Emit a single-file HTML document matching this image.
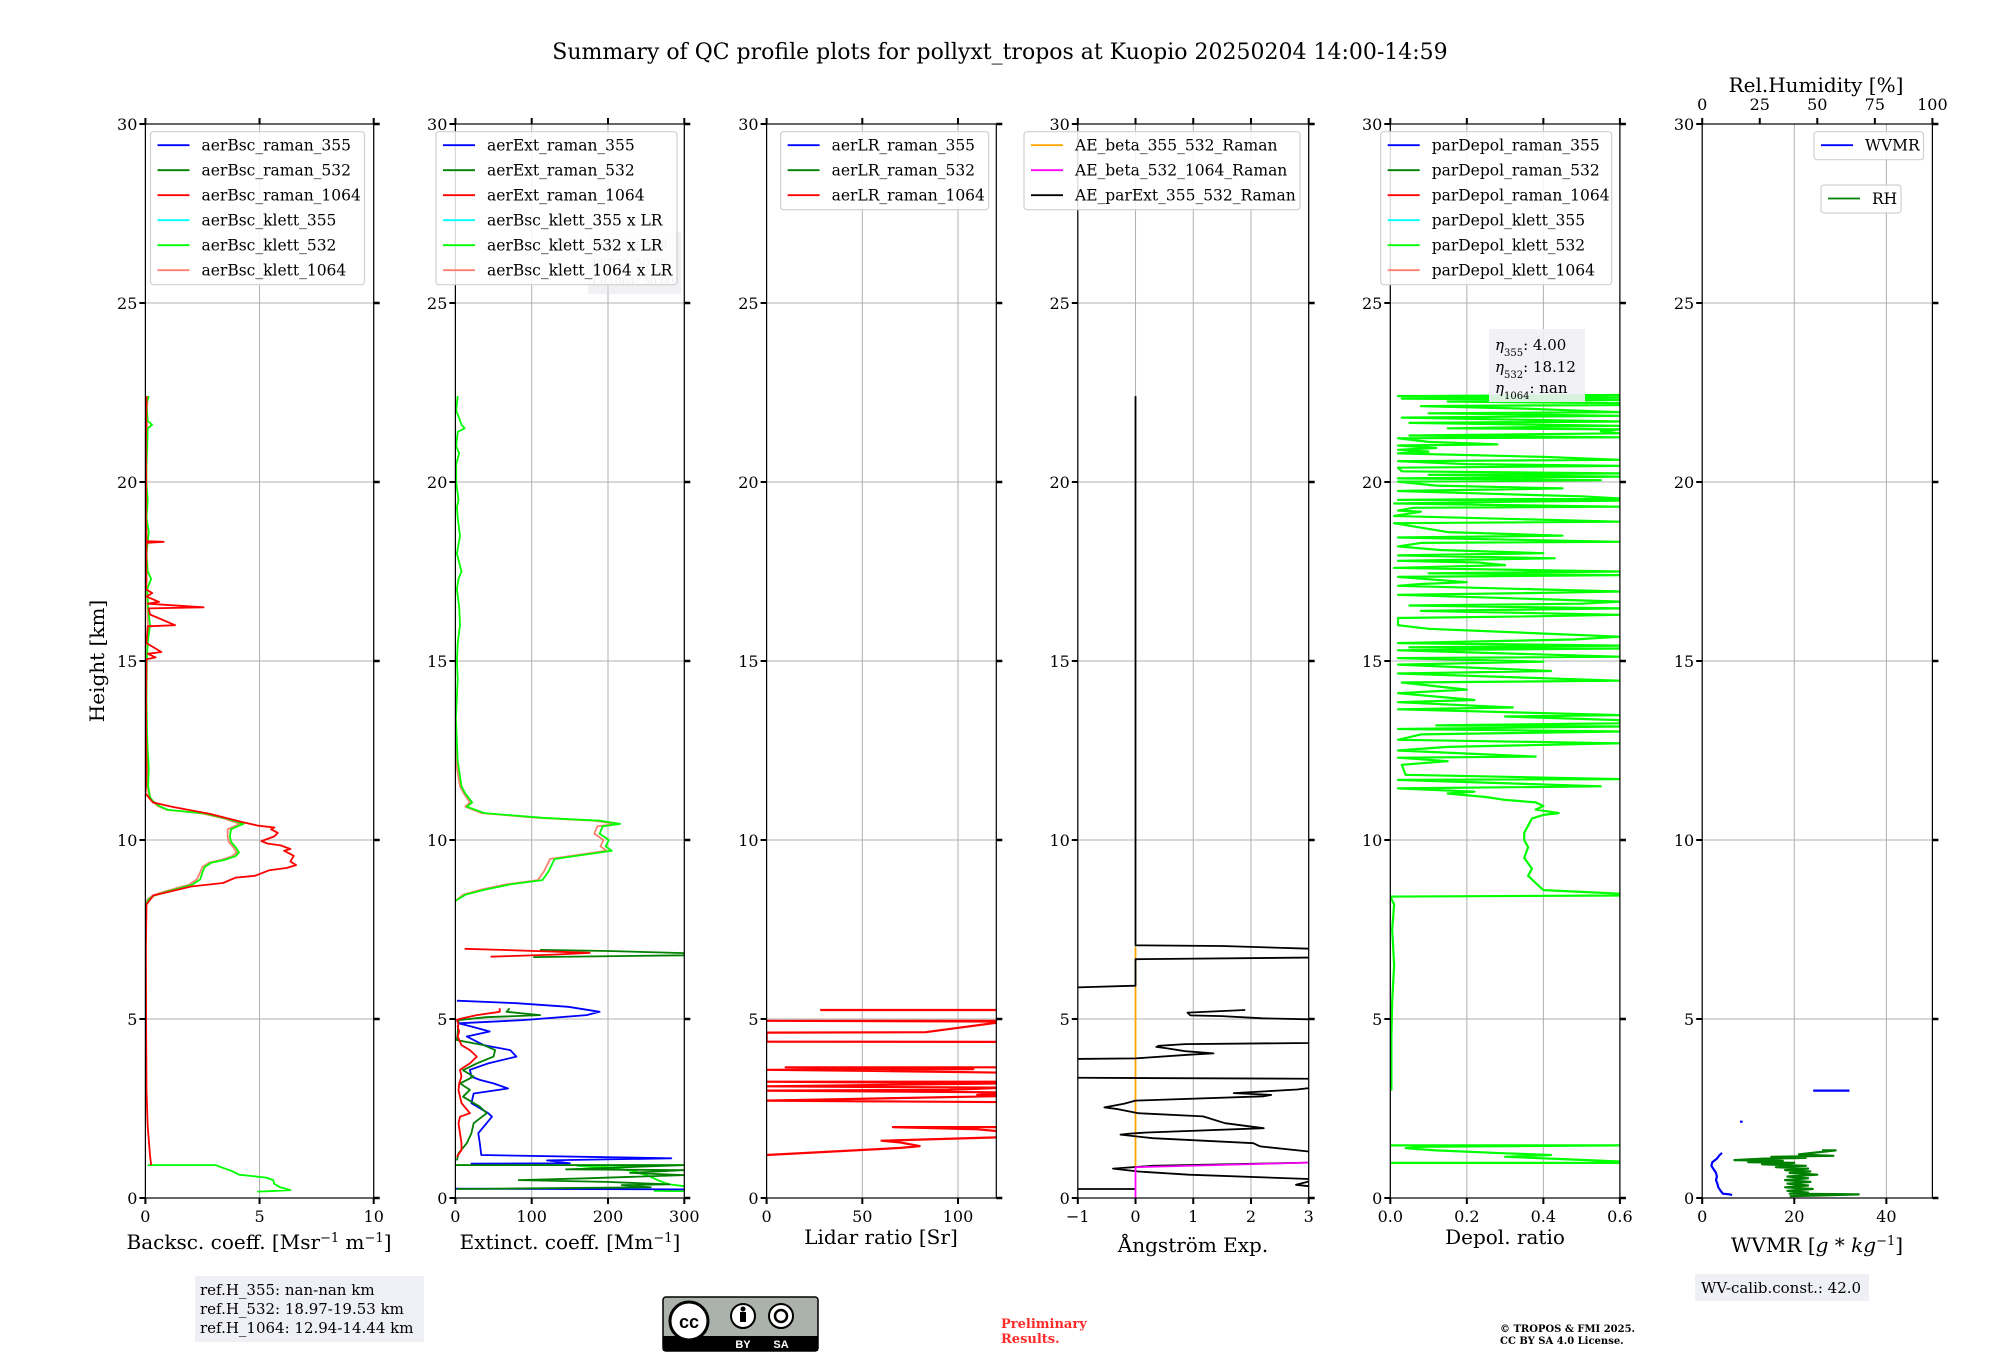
<!DOCTYPE html>
<html><head><meta charset="utf-8"><title>QC profile summary</title>
<style>
html,body{margin:0;padding:0;background:#fff;}
svg{display:block;font-family:"DejaVu Serif","Liberation Serif",serif;}
</style></head>
<body>
<svg id="fig" xmlns="http://www.w3.org/2000/svg" width="2000" height="1360" viewBox="0 0 2000 1360">
<rect x="0" y="0" width="2000" height="1360" fill="#fff"/>
<text x="1000" y="59" font-size="22" text-anchor="middle">Summary of QC profile plots for pollyxt_tropos at Kuopio 20250204 14:00-14:59</text>
<text transform="translate(97,661) rotate(-90)" font-size="20" text-anchor="middle" dominant-baseline="central">Height [km]</text>
<g id="panels"></g>
<g>
<rect x="195" y="1276" width="229" height="66" fill="#eff0f5"/>
<text x="200" y="1295" font-size="15">ref.H_355: nan-nan km</text>
<text x="200" y="1314" font-size="15">ref.H_532: 18.97-19.53 km</text>
<text x="200" y="1333" font-size="15">ref.H_1064: 12.94-14.44 km</text>
</g>
<g>
<rect x="663" y="1297" width="155" height="54" rx="3" fill="#aab2ab" stroke="#000" stroke-width="1.5"/>
<rect x="663" y="1336" width="155" height="15" fill="#000"/>
<circle cx="689" cy="1321" r="19" fill="#fff" stroke="#000" stroke-width="3"/>
<text x="689" y="1328" font-size="18" font-weight="bold" text-anchor="middle" font-family="Liberation Sans, sans-serif">cc</text>
<circle cx="743" cy="1316" r="12" fill="#fff" stroke="#000" stroke-width="2"/>
<circle cx="743" cy="1309" r="2.5" fill="#000"/>
<rect x="740" y="1312" width="6" height="10" fill="#000"/>
<circle cx="781" cy="1316" r="12" fill="#fff" stroke="#000" stroke-width="2"/>
<circle cx="781" cy="1316" r="6" fill="none" stroke="#000" stroke-width="2.5"/>
<text x="743" y="1348" font-size="11" font-weight="bold" fill="#fff" text-anchor="middle" font-family="Liberation Sans, sans-serif">BY</text>
<text x="781" y="1348" font-size="11" font-weight="bold" fill="#fff" text-anchor="middle" font-family="Liberation Sans, sans-serif">SA</text>
</g>
<g fill="#ff2a2a" font-size="13" font-weight="bold">
<text x="1001" y="1328">Preliminary</text>
<text x="1001" y="1343">Results.</text>
</g>
<g font-size="10" font-weight="bold">
<text x="1500" y="1332">© TROPOS &amp; FMI 2025.</text>
<text x="1500" y="1344">CC BY SA 4.0 License.</text>
</g>
<g>
<rect x="1695" y="1274" width="174" height="27" fill="#eff0f5"/>
<text x="1701" y="1293" font-size="15">WV-calib.const.: 42.0</text>
</g>
</svg>
<script>
// ---------- data (height km, value) ----------
const yTicks = [0,5,10,15,20,25,30];
const bscTicks = [0,5,10];
const extTicks = [0,100,200,300];
const lrTicks = [0,50,100];
const aeTicks = [-1,0,1,2,3];
const aeTickLabels = ["\u22121","0","1","2","3"];
const depTicks = [0,0.2,0.4,0.6];
const depTickLabels = ["0.0","0.2","0.4","0.6"];
const wvTicks = [0,20,40];
const rhTicks = [0,25,50,75,100];

const bscKlett532 = [[22.4,0.15],[22.2,0.05],[21.7,0.1],[21.6,0.3],[21.5,0.1],[21.0,0.08],[20.5,0.05],[20.0,0.04],[19.5,0.1],[19.0,0.05],[18.6,0.15],[18.0,0.05],[17.5,0.1],[17.3,0.25],[17.0,0.08],[16.5,0.12],[16.0,0.2],[15.5,0.1],[15.0,0.06],[14.0,0.05],[13.0,0.07],[12.5,0.1],[12.0,0.15],[11.5,0.12],[11.2,0.2],[11.09,0.33],[10.95,0.6],[10.84,1.0],[10.74,2.6],[10.59,3.6],[10.45,4.3],[10.4,4.1],[10.3,3.75],[10.1,3.7],[9.95,3.75],[9.8,3.95],[9.65,4.1],[9.55,3.95],[9.45,3.5],[9.37,2.9],[9.25,2.6],[9.1,2.5],[8.9,2.4],[8.75,2.05],[8.65,1.5],[8.55,0.9],[8.45,0.4],[8.35,0.15],[8.2,0.03],[null,null],[0.92,0.1],[0.92,3.07],[0.75,3.8],[0.65,4.1],[0.57,5.3],[0.5,5.6],[0.4,5.64],[0.3,5.9],[0.22,6.35],[0.19,5.4],[0.18,4.9]];
const bscKlett1064 = [[22.4,0.12],[22.0,0.05],[21.5,0.08],[21.0,0.05],[20.0,0.04],[19.0,0.05],[18.0,0.05],[17.0,0.06],[16.0,0.1],[15.0,0.05],[14.0,0.04],[13.0,0.05],[12.0,0.1],[11.5,0.1],[11.2,0.15],[11.09,0.28],[10.95,0.55],[10.84,0.95],[10.74,2.5],[10.59,3.5],[10.45,4.15],[10.4,3.95],[10.3,3.6],[10.1,3.6],[9.95,3.65],[9.8,3.85],[9.65,4.0],[9.55,3.8],[9.45,3.35],[9.37,2.8],[9.25,2.5],[9.1,2.4],[8.9,2.25],[8.75,1.9],[8.65,1.35],[8.55,0.8],[8.45,0.32],[8.35,0.1],[8.2,0.02]];
const bscRaman1064 = [[22.4,0.05],[21.0,0.02],[20.0,0.03],[19.0,0.02],[18.35,0.05],[18.33,0.8],[18.3,0.05],[17.0,0.03],[16.9,0.3],[16.8,0.05],[16.65,0.6],[16.6,0.1],[16.5,2.55],[16.47,0.15],[16.3,0.2],[16.0,1.3],[15.97,0.1],[15.5,0.05],[15.25,0.7],[15.2,0.1],[15.1,0.45],[15.05,0.05],[14.0,0.03],[13.0,0.03],[12.0,0.05],[11.5,0.03],[11.3,0.0],[11.05,0.33],[10.93,1.16],[10.73,2.83],[10.5,4.25],[10.4,4.95],[10.35,5.65],[10.3,5.5],[10.2,5.8],[10.1,5.65],[9.97,5.08],[9.9,5.36],[9.85,5.92],[9.75,6.35],[9.7,6.07],[9.56,6.5],[9.4,6.35],[9.3,6.6],[9.22,6.2],[9.15,5.4],[9.0,4.8],[8.95,3.96],[8.8,3.4],[8.7,2.0],[8.45,0.35],[8.2,0.05],[7.0,0.02],[5.0,0.03],[3.0,0.05],[2.0,0.1],[1.2,0.2],[0.92,0.25]];

const extKlett532 = [[22.4,3],[22.0,1],[21.6,8],[21.5,12],[21.4,3],[21.0,1],[20.8,5],[20.5,1],[20.0,1],[19.5,4],[19.3,2],[19.0,3],[18.5,6],[18.0,2],[17.5,8],[17.3,4],[17.0,2],[16.5,5],[16.0,6],[15.5,3],[15.0,2],[14.5,3],[14.0,2],[13.4,0.6],[12.2,3],[11.5,8],[11.3,13],[11.05,22],[10.93,15],[10.75,38],[10.62,114],[10.54,189],[10.45,216],[10.38,193],[10.18,189],[10.0,201],[9.82,197],[9.7,205],[9.65,189],[9.47,130],[9.12,122],[8.88,114],[8.76,72],[8.61,38],[8.47,13],[8.3,0],[null,null],[0.92,2],[0.92,300],[0.9,160],[0.85,200],[0.75,235],[0.6,255],[0.5,265],[0.42,275],[0.38,281],[0.33,300],[null,null],[0.2,260],[0.19,300]];
const extKlett1064 = [[13.0,1],[12.0,2],[11.5,6],[11.3,11],[11.05,19],[10.93,13],[10.75,34],[10.62,108],[10.54,182],[10.45,210],[10.38,186],[10.18,182],[10.0,194],[9.82,190],[9.7,198],[9.65,182],[9.47,124],[9.12,116],[8.88,108],[8.76,66],[8.61,33],[8.47,10],[8.3,0]];
const extRaman355 = [[5.51,2],[5.44,80],[5.34,148],[5.2,189],[5.11,172],[4.97,89],[4.88,4],[4.79,21],[4.65,45],[4.51,15],[4.27,37],[4.13,72],[3.95,80],[3.76,43],[3.58,19],[3.39,21],[3.3,32],[3.2,50],[3.06,69],[2.92,24],[2.65,21],[2.37,43],[2.27,48],[1.99,37],[1.81,30],[1.53,32],[1.2,34],[1.11,283],[1.05,120],[0.97,150],[0.96,20],[null,null],[0.26,0],[0.24,300]];
const extRaman532 = [[6.93,111],[6.9,200],[6.84,300],[6.78,300],[6.73,102],[null,null],[5.3,71],[5.2,67],[5.11,111],[5.05,40],[4.97,4],[4.6,3],[4.41,2],[4.27,37],[4.13,52],[3.95,50],[3.76,28],[3.57,10],[3.39,24],[3.2,6],[3.02,19],[2.83,10],[2.55,32],[2.37,41],[2.09,24],[1.81,21],[1.53,15],[1.25,4],[1.05,2],[null,null],[0.92,0],[0.92,300],[0.8,145],[0.78,300],[0.7,229],[0.64,300],[0.55,172],[0.5,83],[0.45,198],[0.38,281],[0.36,218],[0.3,256],[0.25,2]];
const extRaman1064 = [[6.96,12],[6.93,60],[6.85,176],[6.8,130],[6.74,46],[null,null],[5.3,58],[5.2,58],[5.11,28],[5.0,5],[4.97,2],[4.85,4],[4.79,3],[4.65,5],[4.51,3],[4.27,8],[4.13,19],[3.95,28],[3.76,19],[3.58,6],[3.39,8],[3.2,5],[3.02,4],[2.83,6],[2.65,8],[2.37,19],[2.27,6],[2.09,4],[1.81,6],[1.53,8],[1.34,8],[1.15,2]];

const lrRaman1064 = [[5.25,28],[5.25,125],[4.95,125],[4.95,0],[4.93,125],[4.63,83],[4.62,0],[4.37,0],[4.36,125],[3.65,125],[3.65,10],[3.6,108],[3.58,0],[3.55,56],[3.5,125],[3.25,125],[3.25,0],[3.2,125],[3.12,0],[3.1,60],[3.08,125],[3.02,95],[3.0,0],[2.95,125],[2.88,110],[2.85,125],[2.72,0],[2.7,50],[2.68,125],[1.98,125],[1.98,66],[1.92,110],[1.85,125],[1.7,125],[1.6,60],[1.55,70],[1.45,80],[1.4,70],[1.2,0]];

const aeParExt = [[22.4,0],[7.06,0],[7.04,1.5],[6.95,3.3],[6.72,3.3],[6.67,0],[5.93,0],[5.87,-1.3],[null,null],[5.25,1.9],[5.18,0.9],[5.1,0.95],[5.08,1.5],[5.02,2.2],[4.98,3.3],[null,null],[4.37,3.3],[4.33,3],[4.3,0.86],[4.25,0.4],[4.22,0.36],[4.18,0.55],[4.1,0.86],[4.04,1.35],[4.0,0.9],[3.9,0],[3.88,-1.3],[null,null],[3.36,-1.3],[3.33,3.3],[null,null],[3.09,3.3],[3.07,3],[3.03,2.8],[2.93,1.7],[2.88,2.35],[2.84,2.22],[2.72,0],[2.63,-0.2],[2.53,-0.54],[2.48,-0.3],[2.37,0.05],[2.28,1.17],[2.09,1.55],[1.95,2.22],[1.83,0.2],[1.8,-0.1],[1.77,-0.26],[1.67,0.3],[1.53,2.04],[1.44,2.16],[1.3,3.0],[1.28,3.3],[null,null],[1.0,3.3],[0.99,3],[0.9,0.3],[0.85,-0.15],[0.82,-0.39],[0.74,0.05],[0.65,0.92],[0.53,3.0],[0.46,3.0],[0.37,2.78],[0.33,3.0],[0.32,3.3],[null,null],[0.25,-1.3],[0.25,0]];
const aeBeta355532 = [[7.0,0],[0.85,0]];
const aeBeta5321064 = [[0,0],[0.86,0],[0.99,3.0]];

const depKlett532 = [[22.43,0.6],[22.4,0.02],[22.36,0.6],[22.33,0.03],[22.29,0.6],[22.25,0.15],[22.2,0.6],[22.15,0.6],[22.12,0.08],[22.05,0.35],[21.95,0.6],[21.92,0.1],[21.85,0.6],[21.8,0.03],[21.69,0.6],[21.65,0.05],[21.57,0.6],[21.5,0.15],[21.47,0.6],[21.42,0.55],[21.36,0.6],[21.3,0.05],[21.25,0.6],[21.22,0.02],[21.12,0.1],[21.05,0.28],[21.02,0.02],[20.95,0.12],[20.9,0.02],[20.85,0.1],[20.8,0.02],[20.7,0.4],[20.62,0.6],[20.58,0.02],[20.5,0.2],[20.45,0.6],[20.4,0.02],[20.3,0.03],[20.24,0.6],[20.2,0.1],[20.15,0.6],[20.1,0.02],[20.05,0.55],[20.01,0.02],[19.9,0.12],[19.82,0.45],[19.75,0.02],[19.66,0.3],[19.6,0.5],[19.54,0.6],[19.5,0.02],[19.48,0.6],[19.45,0.32],[19.4,0.01],[19.31,0.6],[19.28,0.06],[19.2,0.02],[19.17,0.08],[19.05,0.01],[18.89,0.6],[18.85,0.01],[18.6,0.15],[18.5,0.45],[18.45,0.02],[18.33,0.6],[18.3,0.08],[18.2,0.02],[18.1,0.13],[18.01,0.4],[17.95,0.02],[17.87,0.43],[17.8,0.02],[17.75,0.23],[17.68,0.3],[17.6,0.01],[17.5,0.6],[17.45,0.1],[17.4,0.6],[17.35,0.02],[17.2,0.2],[17.15,0.08],[17.1,0.02],[16.94,0.6],[16.9,0.38],[16.85,0.02],[16.66,0.6],[16.6,0.5],[16.55,0.05],[16.47,0.6],[16.4,0.08],[16.29,0.6],[16.25,0.38],[16.2,0.02],[16.0,0.02],[15.9,0.1],[15.68,0.6],[15.6,0.48],[15.5,0.02],[15.43,0.6],[15.38,0.05],[15.35,0.6],[15.3,0.02],[15.12,0.6],[15.08,0.02],[14.98,0.4],[14.9,0.02],[14.72,0.42],[14.65,0.02],[14.45,0.6],[14.4,0.03],[14.2,0.2],[14.1,0.02],[13.91,0.22],[13.85,0.02],[13.7,0.32],[13.65,0.02],[13.49,0.6],[13.45,0.3],[13.35,0.6],[13.26,0.6],[13.2,0.12],[13.17,0.6],[13.1,0.02],[13.03,0.6],[12.95,0.08],[12.8,0.02],[12.7,0.6],[12.6,0.15],[12.5,0.02],[12.33,0.38],[12.3,0.02],[12.2,0.15],[12.1,0.03],[11.82,0.04],[11.7,0.6],[11.68,0.02],[11.5,0.55],[11.44,0.02],[11.35,0.22],[11.3,0.15],[11.2,0.25],[11.12,0.3],[11.05,0.38],[10.95,0.4],[10.85,0.38],[10.75,0.44],[10.7,0.4],[10.6,0.37],[10.4,0.36],[10.2,0.35],[10.0,0.35],[9.8,0.36],[9.5,0.35],[9.2,0.37],[9.0,0.36],[8.8,0.38],[8.6,0.4],[8.55,0.5],[8.5,0.6],[8.45,0.6],[8.42,0.0],[8.2,0.01],[7.5,0.005],[6.5,0.01],[5.5,0.005],[4.5,0.003],[3.0,0.003],[null,null],[1.47,0],[1.47,0.6],[1.43,0.08],[1.39,0.04],[1.33,0.12],[1.25,0.3],[1.2,0.42],[1.15,0.3],[1.1,0.42],[1.02,0.6],[0.98,0.6],[0.98,0]];

const wvmr = [[1.26,4.3],[1.2,3.8],[1.1,3.2],[1.0,2.2],[0.9,2.0],[0.8,2.5],[0.7,3.0],[0.6,3.2],[0.5,3.0],[0.4,3.3],[0.3,3.5],[0.2,4.0],[0.12,4.5],[0.1,6.0],[0.08,6.5],[null,null],[2.13,8.2],[2.13,8.8],[null,null],[3.0,24.1],[3.0,32.0]];
const rh = [[1.33,52],[1.33,58],[1.22,42],[1.2,47],[1.18,57],[1.15,30],[1.12,45],[1.1,27],[1.06,14],[1.04,35],[1.0,20],[0.98,40],[0.94,26],[0.9,45],[0.86,32],[0.82,46],[0.78,36],[0.74,47],[0.7,38],[0.65,50],[0.6,37],[0.55,46],[0.5,36],[0.45,47],[0.4,37],[0.35,46],[0.3,36],[0.25,48],[0.2,37],[0.15,46],[0.12,38],[0.1,68],[0.07,50],[0.05,38]];

// ---------- layout ----------
const NS = "http://www.w3.org/2000/svg";
const Y0 = 1198, YT = 124;
function yS(h){ return Y0 - h*(Y0-YT)/30; }
const panels = {
  bsc:{x0:145.4,x1:373.7,min:0,max:10},
  ext:{x0:455.4,x1:684.3,min:0,max:300},
  lr:{x0:766.6,x1:996.3,min:0,max:120},
  ae:{x0:1077.8,x1:1308.7,min:-1,max:3},
  dep:{x0:1390.3,x1:1619.9,min:0,max:0.6},
  wv:{x0:1702.2,x1:1932.4,min:0,max:50}
};
const rhAxis = {x0:1702.2,x1:1932.4,min:0,max:100};
function xS(p,v){ return p.x0 + (v-p.min)*(p.x1-p.x0)/(p.max-p.min); }
const root = document.getElementById('panels');
function mk(parent, tag, attrs, name, inter){
  const el = document.createElementNS(NS, tag);
  for (const k in attrs) el.setAttribute(k, attrs[k]);
  
  
  parent.appendChild(el);
  return el;
}
function txt(parent, x, y, s, size, anchor, name){
  const t = mk(parent,'text',{x:x,y:y,'font-size':size,'text-anchor':anchor||'start'},name,false);
  t.textContent = s;
  return t;
}

function drawPanel(key, ticks, tickLabels, xlabelParts, xlabelX, xlabelY){
  const p = panels[key];
  const g = mk(root,'g',{},'panel-'+key,false);
  const cp = mk(g,'clipPath',{id:'clip-'+key},'clip-'+key,false);
  mk(cp,'rect',{x:p.x0,y:YT,width:p.x1-p.x0,height:Y0-YT},'clip-rect',false);
  yTicks.forEach(h=>{ mk(g,'line',{x1:p.x0,x2:p.x1,y1:yS(h),y2:yS(h),stroke:'#b0b0b0','stroke-width':1},'y-grid-line',false); });
  ticks.forEach(v=>{ const x=xS(p,v); mk(g,'line',{x1:x,x2:x,y1:YT,y2:Y0,stroke:'#b0b0b0','stroke-width':1},'x-grid-line',false); });
  const dg = mk(g,'g',{'clip-path':'url(#clip-'+key+')'},'series-group-'+key,false);
  mk(g,'rect',{x:p.x0,y:YT,width:p.x1-p.x0,height:Y0-YT,fill:'none',stroke:'#000','stroke-width':1.2},'axes-frame',false);
  yTicks.forEach(h=>{
    const y=yS(h);
    mk(g,'line',{x1:p.x0-6,x2:p.x0,y1:y,y2:y,stroke:'#000','stroke-width':2},'y-tick',false);
    mk(g,'line',{x1:p.x1,x2:p.x1+6,y1:y,y2:y,stroke:'#000','stroke-width':2.5},'y-tick-right',false);
    txt(g,p.x0-8,y+6,String(h),16,'end','y-tick-label');
  });
  ticks.forEach((v,i)=>{
    const x=xS(p,v);
    mk(g,'line',{x1:x,x2:x,y1:Y0,y2:Y0+6,stroke:'#000','stroke-width':2},'x-tick',false);
    if (key!=='wv') mk(g,'line',{x1:x,x2:x,y1:YT-6,y2:YT,stroke:'#000','stroke-width':2},'x-tick-top',false);
    txt(g,x,1222,tickLabels[i],16,'middle','x-tick-label');
  });
  const xl = mk(g,'text',{x:xlabelX,y:xlabelY,'font-size':20,'text-anchor':'middle'},'x-axis-title-'+key,false);
  xlabelParts.forEach(pt=>{
    const ts = document.createElementNS(NS,'tspan');
    ts.textContent = pt[0];
    if (pt[1]==='sup'){ ts.setAttribute('baseline-shift','super'); ts.setAttribute('font-size','13'); }
    if (pt[1]==='it'){ ts.setAttribute('font-style','italic'); }
    xl.appendChild(ts);
  });
  return dg;
}

function series(parent, key, pts, color, name, width, axis){
  const p = axis || panels[key];
  let d = '', pen = false;
  pts.forEach(pt=>{
    if (pt[0]===null){ pen=false; return; }
    const x = xS(p, pt[1]).toFixed(1), y = yS(pt[0]).toFixed(1);
    d += (pen ? 'L' : 'M') + x + ' ' + y + ' ';
    pen = true;
  });
  const el = mk(parent,'path',{d:d,fill:'none',stroke:color,'stroke-width':width||1.8,'stroke-linejoin':'round'},name,false);
  return el;
}

function legend(x, y, w, entries, name){
  const h = entries.length*25 + 3;
  const g = mk(root,'g',{},name,false);
  mk(g,'rect',{x:x,y:y,width:w,height:h,rx:3,fill:'#fff','fill-opacity':0.85,stroke:'#d0d0d0','stroke-width':1.2},'legend-frame',false);
  entries.forEach((e,i)=>{
    const cy = y + 13.5 + i*25;
    mk(g,'line',{x1:x+7,x2:x+39,y1:cy,y2:cy,stroke:e[1],'stroke-width':1.8},'legend-line',false);
    txt(g,x+51,cy+5.5,e[0],15.5,'start','legend-entry');
  });
}

let g1 = drawPanel('bsc', bscTicks, bscTicks.map(String), [["Backsc. coeff. [Msr"],["\u22121",'sup'],[" m"],["\u22121",'sup'],["]"]], 259, 1249);
series(g1,'bsc',bscKlett1064,'#fa8072','aerBsc-klett-1064-line');
series(g1,'bsc',bscKlett532,'#00ff00','aerBsc-klett-532-line');
series(g1,'bsc',bscRaman1064,'#ff0000','aerBsc-raman-1064-line');

let g2 = drawPanel('ext', extTicks, extTicks.map(String), [["Extinct. coeff. [Mm"],["\u22121",'sup'],["]"]], 570, 1249);
series(g2,'ext',extKlett1064,'#fa8072','aerExt-klett-1064-line');
series(g2,'ext',extKlett532,'#00ff00','aerExt-klett-532-line');
series(g2,'ext',extRaman355,'#0000ff','aerExt-raman-355-line');
series(g2,'ext',extRaman532,'#008000','aerExt-raman-532-line');
series(g2,'ext',extRaman1064,'#ff0000','aerExt-raman-1064-line');

let g3 = drawPanel('lr', lrTicks, lrTicks.map(String), [["Lidar ratio [Sr]"]], 881, 1244);
series(g3,'lr',lrRaman1064,'#ff0000','aerLR-raman-1064-line',2.2);

let g4 = drawPanel('ae', aeTicks, aeTickLabels, [["\u00c5ngstr\u00f6m Exp."]], 1193, 1252);
series(g4,'ae',aeBeta355532,'#ffa500','AE-beta-355-532-line');
series(g4,'ae',aeParExt,'#000000','AE-parExt-355-532-line');
series(g4,'ae',aeBeta5321064,'#ff00ff','AE-beta-532-1064-line');

let g5 = drawPanel('dep', depTicks, depTickLabels, [["Depol. ratio"]], 1505, 1244);
series(g5,'dep',depKlett532,'#00ff00','parDepol-klett-532-line',2.2);

let g6 = drawPanel('wv', wvTicks, wvTicks.map(String), [["WVMR ["],["g",'it'],[" * "],["kg",'it'],["\u22121",'sup'],["]"]], 1817, 1252);
series(g6,'wv',rh,'#008000','RH-line',2.2,rhAxis);
series(g6,'wv',wvmr,'#0000ff','WVMR-line',2.2);
rhTicks.forEach(v=>{
  const x = xS(rhAxis,v);
  mk(root,'line',{x1:x,x2:x,y1:YT-6,y2:YT,stroke:'#000','stroke-width':2},'rh-top-tick',false);
  txt(root,x,110,String(v),16,'middle','rh-tick-label');
});
txt(root,1816,92,'Rel.Humidity [%]',20,'middle','rh-axis-title');

const lrBox = mk(root,'g',{opacity:0.45},'lr-annotation',false);
mk(lrBox,'rect',{x:588,y:232,width:93,height:62,fill:'#dfe2ea'},'lr-annotation-bg',false);
txt(lrBox,592,249,'LR355: 50.00',11,'start','lr-355-text');
txt(lrBox,592,267,'LR532: 50.00',11,'start','lr-532-text');
txt(lrBox,592,285,'LR1064: 50.00',11,'start','lr-1064-text');

legend(150.5,131.7,214,[["aerBsc_raman_355","#0000ff"],["aerBsc_raman_532","#008000"],["aerBsc_raman_1064","#ff0000"],["aerBsc_klett_355","#00ffff"],["aerBsc_klett_532","#00ff00"],["aerBsc_klett_1064","#fa8072"]],'bsc-legend');
legend(436,131.7,241,[["aerExt_raman_355","#0000ff"],["aerExt_raman_532","#008000"],["aerExt_raman_1064","#ff0000"],["aerBsc_klett_355 x LR","#00ffff"],["aerBsc_klett_532 x LR","#00ff00"],["aerBsc_klett_1064 x LR","#fa8072"]],'ext-legend');
legend(780.6,131.7,208,[["aerLR_raman_355","#0000ff"],["aerLR_raman_532","#008000"],["aerLR_raman_1064","#ff0000"]],'lr-legend');
legend(1024,131.7,276,[["AE_beta_355_532_Raman","#ffa500"],["AE_beta_532_1064_Raman","#ff00ff"],["AE_parExt_355_532_Raman","#000000"]],'ae-legend');
legend(1380.7,131.7,231,[["parDepol_raman_355","#0000ff"],["parDepol_raman_532","#008000"],["parDepol_raman_1064","#ff0000"],["parDepol_klett_355","#00ffff"],["parDepol_klett_532","#00ff00"],["parDepol_klett_1064","#fa8072"]],'depol-legend');
legend(1814,131.7,109.5,[["WVMR","#0000ff"]],'wvmr-legend');
legend(1821,185,80,[["RH","#008000"]],'rh-legend');

const eta = mk(root,'g',{},'eta-box',false);
mk(eta,'rect',{x:1489,y:329,width:96,height:73,fill:'#eff0f5','fill-opacity':0.9},'eta-box-bg',false);
const e1 = txt(eta,1495,350,'',15,'start','eta-355-text');
e1.innerHTML = '<tspan font-style="italic">η</tspan><tspan font-size="10" baseline-shift="sub">355</tspan>: 4.00';
const e2 = txt(eta,1495,372,'',15,'start','eta-532-text');
e2.innerHTML = '<tspan font-style="italic">η</tspan><tspan font-size="10" baseline-shift="sub">532</tspan>: 18.12';
const e3 = txt(eta,1495,393,'',15,'start','eta-1064-text');
e3.innerHTML = '<tspan font-style="italic">η</tspan><tspan font-size="10" baseline-shift="sub">1064</tspan>: nan';
</script>
</body></html>
